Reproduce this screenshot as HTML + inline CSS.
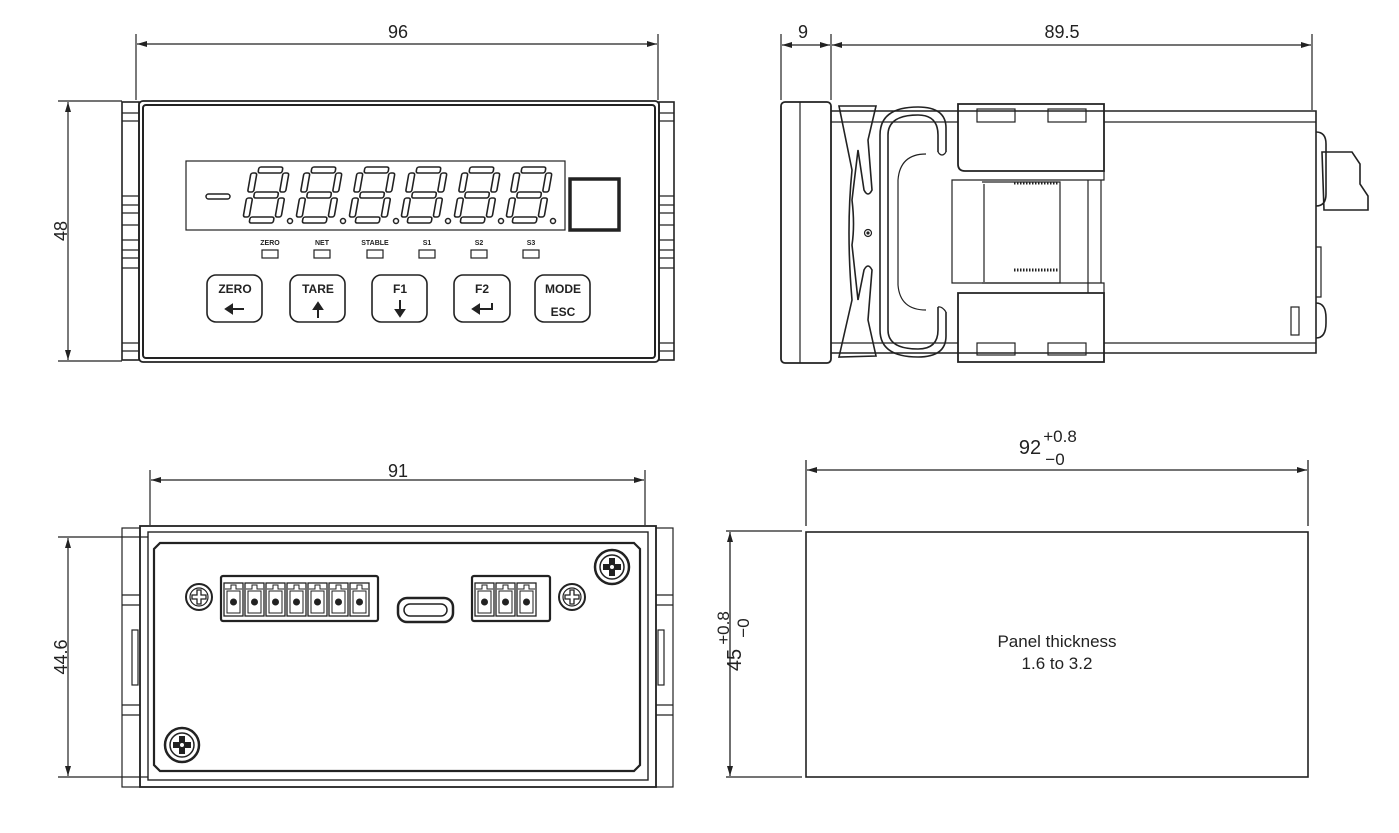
<!DOCTYPE html>
<html><head><meta charset="utf-8"><style>
html,body{margin:0;padding:0;background:#fff;width:1399px;height:833px;overflow:hidden}
svg{display:block}
text{font-family:"Liberation Sans",sans-serif;fill:#222}
</style></head><body>
<svg width="1399" height="833" viewBox="0 0 1399 833" xmlns="http://www.w3.org/2000/svg">
<defs>
<marker id="a" viewBox="0 0 10 6" refX="10" refY="3" markerWidth="10" markerHeight="6" orient="auto-start-reverse" markerUnits="userSpaceOnUse"><path d="M0,0 L10,3 L0,6 z" fill="#222"/></marker>
<g id="dg">
<g transform="skewX(-10)" fill="none" stroke="#222" stroke-width="1.6">
<rect x="7" y="0" width="24" height="6" rx="2"/>
<rect x="7" y="25" width="24" height="6" rx="2"/>
<rect x="7" y="50" width="24" height="6" rx="2"/>
<rect x="0" y="6" width="6" height="19" rx="2"/>
<rect x="32" y="6" width="6" height="19" rx="2"/>
<rect x="0" y="31" width="6" height="19" rx="2"/>
<rect x="32" y="31" width="6" height="19" rx="2"/>
</g>
<circle cx="38" cy="54" r="2.5" fill="none" stroke="#222" stroke-width="1.5"/>
</g>
<g id="scS"><circle r="13" fill="none" stroke="#222" stroke-width="2"/><circle r="9" fill="none" stroke="#222" stroke-width="1.2"/><path d="M-2,-7 h4 v5 h5 v4 h-5 v5 h-4 v-5 h-5 v-4 h5z" fill="none" stroke="#222" stroke-width="1.3"/></g>
<g id="scB"><circle r="17" fill="none" stroke="#222" stroke-width="2.5"/><circle r="12" fill="none" stroke="#222" stroke-width="1.5"/><path d="M-3,-9 h6 v6 h6 v6 h-6 v6 h-6 v-6 h-6 v-6 h6z" fill="#222"/><circle r="2" fill="#fff"/></g>
<g id="pin"><rect x="0" y="0" width="19" height="33" fill="none" stroke="#222" stroke-width="1.3"/><path d="M1,6 h6 v-4 h5 v4 h6" fill="none" stroke="#222" stroke-width="1"/><rect x="3" y="8" width="13" height="22" fill="none" stroke="#222" stroke-width="1"/><circle cx="9.5" cy="19" r="3.5" fill="#222"/></g>
</defs>

<g stroke="#222" fill="none" stroke-width="1.2">
<!-- ===== FRONT VIEW ===== -->
<line x1="136" y1="34" x2="136" y2="100"/><line x1="658" y1="34" x2="658" y2="100"/>
<line x1="137" y1="44" x2="657" y2="44" marker-start="url(#a)" marker-end="url(#a)"/>
<line x1="58" y1="101" x2="122" y2="101"/><line x1="58" y1="361" x2="122" y2="361"/>
<line x1="68" y1="102" x2="68" y2="360" marker-start="url(#a)" marker-end="url(#a)"/>
<rect x="122" y="102" width="17" height="258" stroke-width="1.6"/>
<rect x="659" y="102" width="15" height="258" stroke-width="1.6"/>
<path d="M122,113h17M122,121h17M122,196h17M122,205h17M122,213h17M122,225h17M122,240h17M122,250h17M122,258h17M122,268h17M122,343h17M122,351h17M659,113h15M659,121h15M659,196h15M659,205h15M659,213h15M659,225h15M659,240h15M659,250h15M659,258h15M659,268h15M659,343h15M659,351h15"/>
<rect x="139" y="101" width="520" height="261" rx="4" stroke-width="1.8"/>
<rect x="143" y="105" width="512" height="253" rx="3" stroke-width="2"/>
<rect x="186" y="161" width="379" height="69"/>
<rect x="570" y="179" width="49" height="51" stroke-width="3.5"/>
<rect x="206" y="194" width="24" height="5" rx="2.5" stroke-width="1.5"/>
<rect x="262" y="250" width="16" height="8"/><rect x="314" y="250" width="16" height="8"/><rect x="367" y="250" width="16" height="8"/><rect x="419" y="250" width="16" height="8"/><rect x="471" y="250" width="16" height="8"/><rect x="523" y="250" width="16" height="8"/>
<rect x="207" y="275" width="55" height="47" rx="9" stroke-width="1.6"/>
<rect x="290" y="275" width="55" height="47" rx="9" stroke-width="1.6"/>
<rect x="372" y="275" width="55" height="47" rx="9" stroke-width="1.6"/>
<rect x="454" y="275" width="56" height="47" rx="9" stroke-width="1.6"/>
<rect x="535" y="275" width="55" height="47" rx="9" stroke-width="1.6"/>
</g>
<use href="#dg" x="252" y="167"/><use href="#dg" x="305" y="167"/><use href="#dg" x="358" y="167"/><use href="#dg" x="410" y="167"/><use href="#dg" x="463" y="167"/><use href="#dg" x="515" y="167"/>
<g font-size="7" font-weight="bold" text-anchor="middle">
<text x="270" y="245">ZERO</text><text x="322" y="245">NET</text><text x="375" y="245">STABLE</text><text x="427" y="245">S1</text><text x="479" y="245">S2</text><text x="531" y="245">S3</text>
</g>
<g font-size="12" font-weight="bold" text-anchor="middle">
<text x="235" y="293">ZERO</text><text x="318" y="293">TARE</text><text x="400" y="293">F1</text><text x="482" y="293">F2</text><text x="563" y="293">MODE</text>
<text x="563" y="316">ESC</text>
</g>
<g stroke="#222" stroke-width="2" fill="#222">
<path d="M244,309 h-14" fill="none"/><path d="M226,309 l6,-4 v8z"/>
<path d="M318,318 v-10" fill="none"/><path d="M318,303 l-4,6 h8z"/>
<path d="M400,300 v10" fill="none"/><path d="M400,316 l-4,-6 h8z"/>
<path d="M492,303 v6 h-14" fill="none"/><path d="M473,309 l6,-4 v8z"/>
</g>
<text x="398" y="38" font-size="18" text-anchor="middle">96</text>
<text transform="translate(67,231) rotate(-90)" font-size="18" text-anchor="middle">48</text>

<!-- ===== SIDE VIEW ===== -->
<g stroke="#222" fill="none" stroke-width="1.2">
<line x1="781" y1="34" x2="781" y2="100"/><line x1="831" y1="34" x2="831" y2="100"/><line x1="1312" y1="34" x2="1312" y2="110"/>
<line x1="782" y1="45" x2="830" y2="45" marker-start="url(#a)" marker-end="url(#a)"/>
<line x1="832" y1="45" x2="1311" y2="45" marker-start="url(#a)" marker-end="url(#a)"/>
<rect x="781" y="102" width="50" height="261" rx="4" stroke-width="1.8"/>
<line x1="800" y1="102" x2="800" y2="363"/>
<path d="M831,111 H1316 V353 H831" stroke-width="1.6"/>
<path d="M831,122 H958 M1104,122 H1316 M831,343 H958 M1104,343 H1316"/>
<path d="M839,106 L876,106 L868,140 L872,190 Q868,198 864,190 L858,150 L852,200 Q855,225 852,245 L858,300 L864,270 Q868,262 872,270 L868,320 L876,356 L839,357 L852,300 Q846,230 852,170 Z" stroke-width="1.6"/>
<circle cx="868" cy="233" r="3.5"/><circle cx="868" cy="233" r="1" fill="#222"/>
<path d="M946,152 L946,128 Q946,107 918,107 Q880,107 880,135 L880,330 Q880,357 918,357 Q946,357 946,336 L946,312 M938,307 L938,330 Q938,349 918,349 Q888,349 888,330 L888,135 Q888,115 918,115 Q938,115 938,135 L938,152" stroke-width="1.6"/>
<path d="M946,152 Q942,158 938,152 M946,312 Q942,306 938,307"/>
<path d="M926,154 Q900,154 898,180 L898,285 Q900,310 926,310"/>
<path d="M958,104 H1104 V171 H965 Q958,171 958,164 Z" stroke-width="1.8"/>
<path d="M958,293 H1104 V362 H958 Z" stroke-width="1.8"/>
<rect x="977" y="109" width="38" height="13"/><rect x="1048" y="109" width="38" height="13"/>
<rect x="977" y="343" width="38" height="12"/><rect x="1048" y="343" width="38" height="12"/>
<path d="M1104,171 V180 H952 V283 H1104 V293 M1088,180 V293 M1101,180 V283"/>
<path d="M982,182 H1060 V283 H982 M984,184 V282"/>
<path d="M1014,183 h44 M1014,270 h44" stroke-width="3" stroke-dasharray="1.5,1.5"/>
<path d="M1316,132 q10,0 10,12 v50 q0,12 -10,12" stroke-width="1.6"/>
<path d="M1322,152 h30 l8,12 v20 l8,12 v14 h-44 z" stroke-width="1.6"/>
<path d="M1316,247 h5 v50 h-5"/>
<path d="M1316,303 q10,0 10,15 v5 q0,15 -10,15" stroke-width="1.6"/>
<rect x="1291" y="307" width="8" height="28"/>
</g>
<text x="803" y="38" font-size="18" text-anchor="middle">9</text>
<text x="1062" y="38" font-size="18" text-anchor="middle">89.5</text>

<!-- ===== REAR VIEW ===== -->
<g stroke="#222" fill="none" stroke-width="1.2">
<line x1="150" y1="470" x2="150" y2="525"/><line x1="645" y1="470" x2="645" y2="525"/>
<line x1="151" y1="480" x2="644" y2="480" marker-start="url(#a)" marker-end="url(#a)"/>
<line x1="58" y1="537" x2="148" y2="537"/><line x1="58" y1="777" x2="148" y2="777"/>
<line x1="68" y1="538" x2="68" y2="776" marker-start="url(#a)" marker-end="url(#a)"/>
<rect x="122" y="528" width="18" height="259"/><rect x="656" y="528" width="17" height="259"/>
<path d="M122,595h18M122,605h18M122,705h18M122,715h18M656,595h17M656,605h17M656,705h17M656,715h17"/>
<rect x="132" y="630" width="6" height="55"/><rect x="658" y="630" width="6" height="55"/>
<rect x="140" y="526" width="516" height="261" stroke-width="1.8"/>
<rect x="148" y="532" width="500" height="248" stroke-width="1.4"/>
<path d="M160,543 H634 L640,549 V765 L634,771 H160 L154,765 V549 Z" stroke-width="2.2"/>
<rect x="221" y="576" width="157" height="45" rx="2" stroke-width="2.2"/>
<rect x="472" y="576" width="78" height="45" rx="2" stroke-width="2.2"/>
<rect x="398" y="598" width="55" height="24" rx="9" stroke-width="2.5"/>
<rect x="404" y="604" width="43" height="12" rx="6" stroke-width="1.5"/>
</g>
<use href="#pin" x="224" y="583"/><use href="#pin" x="245" y="583"/><use href="#pin" x="266" y="583"/><use href="#pin" x="287" y="583"/><use href="#pin" x="308" y="583"/><use href="#pin" x="329" y="583"/><use href="#pin" x="350" y="583"/>
<use href="#pin" x="475" y="583"/><use href="#pin" x="496" y="583"/><use href="#pin" x="517" y="583"/>
<use href="#scS" x="199" y="597"/><use href="#scS" x="572" y="597"/>
<use href="#scB" x="612" y="567"/><use href="#scB" x="182" y="745"/>
<text x="398" y="477" font-size="18" text-anchor="middle">91</text>
<text transform="translate(67,657) rotate(-90)" font-size="18" text-anchor="middle">44.6</text>

<!-- ===== PANEL CUTOUT ===== -->
<g stroke="#222" fill="none" stroke-width="1.3">
<line x1="806" y1="460" x2="806" y2="526"/><line x1="1308" y1="460" x2="1308" y2="526"/>
<line x1="807" y1="470" x2="1307" y2="470" marker-start="url(#a)" marker-end="url(#a)"/>
<line x1="726" y1="531" x2="802" y2="531"/><line x1="726" y1="777" x2="802" y2="777"/>
<line x1="730" y1="532" x2="730" y2="776" marker-start="url(#a)" marker-end="url(#a)"/>
<rect x="806" y="532" width="502" height="245" stroke-width="1.6"/>
</g>
<text x="1030" y="454" font-size="20" text-anchor="middle">92</text>
<text x="1060" y="442" font-size="17" text-anchor="middle">+0.8</text>
<text x="1055" y="465" font-size="17" text-anchor="middle">−0</text>
<text transform="translate(741,660) rotate(-90)" font-size="20" text-anchor="middle">45</text>
<text transform="translate(729,628) rotate(-90)" font-size="17" text-anchor="middle">+0.8</text>
<text transform="translate(749,628) rotate(-90)" font-size="17" text-anchor="middle">−0</text>
<text x="1057" y="647" font-size="17" text-anchor="middle">Panel thickness</text>
<text x="1057" y="669" font-size="17" text-anchor="middle">1.6 to 3.2</text>
</svg>
</body></html>
